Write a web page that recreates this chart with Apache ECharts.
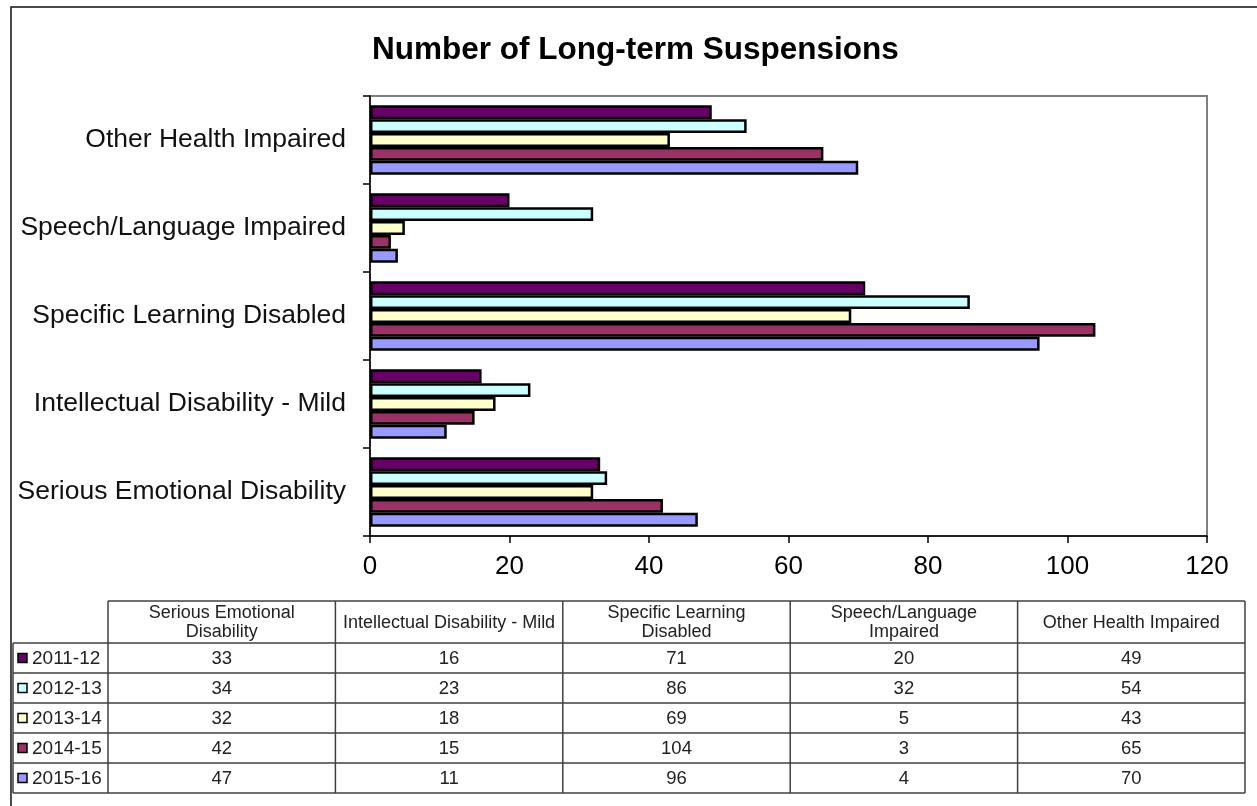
<!DOCTYPE html>
<html>
<head>
<meta charset="utf-8">
<script src="https://cdn.jsdelivr.net/npm/echarts@6/dist/echarts.min.js"></script>
<style>
html,body{margin:0;padding:0;background:#fff;}
#chart{width:1257px;height:806px;}
</style>
</head>
<body>
<div id="chart"></div>
<script>
// ---- data ----
const categories = ['Serious Emotional Disability', 'Intellectual Disability - Mild', 'Specific Learning Disabled', 'Speech/Language Impaired', 'Other Health Impaired'];
const tableHeaders = ['Serious Emotional\nDisability', 'Intellectual Disability - Mild', 'Specific Learning\nDisabled', 'Speech/Language\nImpaired', 'Other Health Impaired'];
const seriesNames = ['2011-12', '2012-13', '2013-14', '2014-15', '2015-16'];
const s2011 = [33, 16, 71, 20, 49];
const s2012 = [34, 23, 86, 32, 54];
const s2013 = [32, 18, 69, 5, 43];
const s2014 = [42, 15, 104, 3, 65];
const s2015 = [47, 11, 96, 4, 70];
const xTicks = [0, 20, 40, 60, 80, 100, 120];
const colors = ['#660066', '#CCFFFF', '#FFFFCC', '#993366', '#9999FF'];
const seriesValues = [s2011, s2012, s2013, s2014, s2015];

const FONT = '"Liberation Sans", Arial, Helvetica, sans-serif';

// ---- table (graphic) ----
const tbl = { left: 13, firstW: 95, right: 1245, headTop: 601, headBottom: 643, rowH: 30 };
const colW = (tbl.right - tbl.left - tbl.firstW) / categories.length;
const graphics = [];
const lineStyle = { stroke: '#404040', lineWidth: 1.5 };
function hline(x1, x2, y) { graphics.push({ type: 'line', shape: { x1, y1: y, x2, y2: y }, style: lineStyle, silent: true }); }
function vline(x, y1, y2) { graphics.push({ type: 'line', shape: { x1: x, y1, x2: x, y2 }, style: lineStyle, silent: true }); }
const dataLeft = tbl.left + tbl.firstW;
const tableBottom = tbl.headBottom + tbl.rowH * seriesNames.length;
// outer chart border
graphics.push({ type: 'rect', shape: { x: 11, y: 7, width: 1300, height: 900 }, style: { fill: 'none', stroke: '#111', lineWidth: 1.5 }, silent: true });
// header row lines
hline(dataLeft, tbl.right, tbl.headTop);
hline(tbl.left, tbl.right, tbl.headBottom);
for (let r = 1; r <= seriesNames.length; r++) hline(tbl.left, tbl.right, tbl.headBottom + r * tbl.rowH);
vline(tbl.left, tbl.headBottom, tableBottom);
for (let c = 0; c <= categories.length; c++) vline(dataLeft + c * colW, tbl.headTop, tableBottom);
// header text
tableHeaders.forEach((h, c) => {
  graphics.push({ type: 'text', silent: true, style: { text: h, x: dataLeft + (c + 0.5) * colW, y: (tbl.headTop + tbl.headBottom) / 2 + 1, textAlign: 'center', textVerticalAlign: 'middle', font: '18px ' + FONT, fill: '#222', lineHeight: 19 } });
});
// rows
seriesNames.forEach((name, r) => {
  const cy = tbl.headBottom + (r + 0.5) * tbl.rowH;
  graphics.push({ type: 'rect', silent: true, shape: { x: 18, y: cy - 4.5, width: 9, height: 9 }, style: { fill: colors[r], stroke: '#000', lineWidth: 1.5 } });
  graphics.push({ type: 'text', silent: true, style: { text: name, x: 32, y: cy + 1, textAlign: 'left', textVerticalAlign: 'middle', font: '19px ' + FONT, fill: '#222' } });
  seriesValues[r].forEach((v, c) => {
    graphics.push({ type: 'text', silent: true, style: { text: String(v), x: dataLeft + (c + 0.5) * colW, y: cy + 1, textAlign: 'center', textVerticalAlign: 'middle', font: '18.5px ' + FONT, fill: '#222' } });
  });
});

const chart = echarts.init(document.getElementById('chart'), null, { renderer: 'canvas' });
chart.setOption({
  animation: false,
  backgroundColor: '#fff',
  title: {
    text: 'Number of Long-term Suspensions',
    left: 367, top: 29,
    textStyle: { fontSize: 31.5, fontWeight: 'bold', color: '#000', fontFamily: FONT }
  },
  grid: { left: 370, top: 96, width: 837, height: 440, show: true, borderColor: '#808080', borderWidth: 2, backgroundColor: 'transparent', containLabel: false },
  xAxis: {
    type: 'value', min: 0, max: 120, interval: 20,
    axisLine: { show: true, lineStyle: { color: '#000', width: 1.5 } },
    axisTick: { show: true, length: 7, lineStyle: { color: '#000', width: 1.5 } },
    axisLabel: { fontSize: 26, color: '#000', fontFamily: FONT, margin: 18, formatter: v => xTicks.includes(v) ? String(v) : '' },
    splitLine: { show: false }
  },
  yAxis: {
    type: 'category', data: categories,
    axisLine: { show: true, lineStyle: { color: '#000', width: 1.5 } },
    axisTick: { show: true, length: 7, inside: false, lineStyle: { color: '#000', width: 1.5 } },
    axisLabel: { fontSize: 26.5, color: '#111', fontFamily: FONT, margin: 24 },
    splitLine: { show: false }
  },
  series: seriesNames.map((n, i) => ({
    name: n, type: 'bar', data: seriesValues[i],
    barGap: '0%', barCategoryGap: '21%',
    itemStyle: { color: colors[i], borderColor: '#000', borderWidth: 2.5 }
  })),
  graphic: graphics
});
</script>
</body>
</html>
